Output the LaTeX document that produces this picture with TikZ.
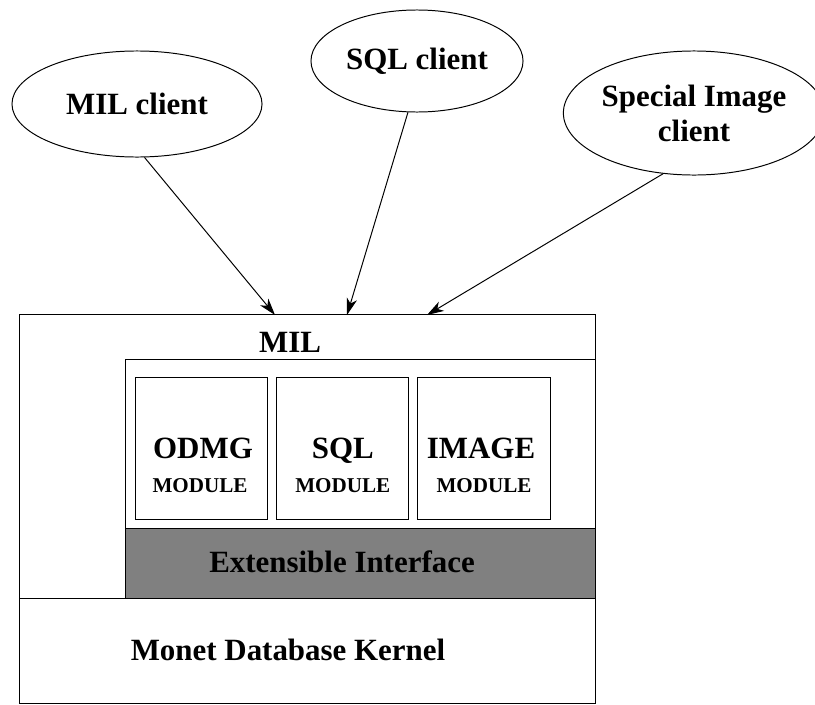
\documentclass[tikz,border=0pt]{standalone}
\usepackage{fontspec}
\setmainfont{Liberation Serif}
\usepackage{tikz}
\usetikzlibrary{shapes.geometric,arrows.meta,positioning,calc}
\newcommand{\bigtxt}{\fontsize{22}{25}\selectfont\bfseries}
\newcommand{\smalltxt}{\fontsize{15}{17}\selectfont\bfseries}
\tikzstyle{client} = [ellipse, draw=black, line width=0.7pt, inner sep=0pt, align=center]
\tikzstyle{frame} = [rectangle, draw=black, line width=0.7pt, inner sep=0pt]
\tikzstyle{modbox} = [frame, minimum width=3.3cm, minimum height=3.525cm]
\tikzstyle{arrow} = [line width=0.7pt, -{Stealth[length=12pt, width=7.5pt, inset=3.5pt]}]

\begin{document}
\begin{tikzpicture}[x=0.025cm, y=-0.025cm, font=\bigtxt]
            \useasboundingbox (0,0) rectangle (815,704);
            % clients
            \node[client, minimum width=6.25cm, minimum height=2.65cm] (milc) at (137,104) {MIL client};
            \node[client, minimum width=5.3cm, minimum height=2.55cm] (sqlc) at (417,61) {SQL client};
            \node[client, minimum width=5.95cm, minimum height=3.1cm] (imgc) at (694,113) {Special Image\\client};

            % MIL layer and kernel
            \node[frame, minimum width=14.375cm, minimum height=7.075cm] (mil) at (307.5,456.5) {};
            \node[frame, minimum width=14.375cm, minimum height=2.625cm] (kernel) at (307.5,650.5) {};
            \node (miltxt) at (290,342) {MIL};
            \node (kerneltxt) at (288,650) {Monet Database Kernel};

            % modules on the extensible interface
            \node[frame, minimum width=11.725cm, minimum height=4.2cm] (modarea) at (360.5,444) {};
            \node[frame, fill=gray, minimum width=11.725cm, minimum height=1.75cm] (iface) at (360.5,563) {};
            \node (ifacetxt) at (342,562) {Extensible Interface};

            \node[modbox] (odmg) at (201.5,448.5) {};
            \node[modbox] (sqlm) at (342.75,448.5) {};
            \node[modbox] (imgm) at (484,448.5) {};
            \node[anchor=base] (odmgtxt) at (203,458) {ODMG};
            \node[anchor=base] (sqltxt) at (342.75,458) {SQL};
            \node[anchor=base] (imgtxt) at (481,458) {IMAGE};
            \node[anchor=base, font=\smalltxt] (odmgmod) at (200,492) {MODULE};
            \node[anchor=base, font=\smalltxt] (sqlmod) at (342.75,492) {MODULE};
            \node[anchor=base, font=\smalltxt] (imgmod) at (484,492) {MODULE};

            % calls into MIL
            \coordinate (inA) at (275,315);
            \coordinate (inB) at (347,315);
            \coordinate (inC) at (427,315);
            \draw[arrow] (milc.-82) -- (inA);
            \draw[arrow] (sqlc.-100) -- (inB);
            \draw[arrow] (imgc.-117) -- (inC);
\end{tikzpicture}
\end{document}
